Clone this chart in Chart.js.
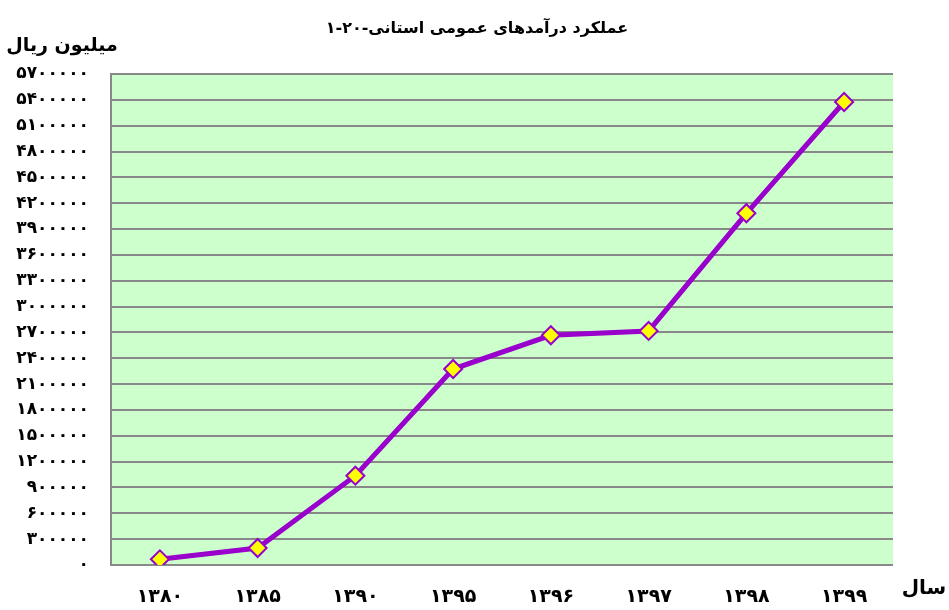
<!DOCTYPE html>
<html>
<head>
<meta charset="utf-8">
<script src="https://cdn.jsdelivr.net/npm/chart.js@4"></script>
<style>
  body { margin: 0; background: #ffffff; }
  #wrap { width: 949px; height: 610px; }
</style>
</head>
<body>
<div id="wrap"><canvas id="revenueChart" width="949" height="610"></canvas></div>
<script>
// chart data
const years = ['۱۳۸۰', '۱۳۸۵', '۱۳۹۰', '۱۳۹۵', '۱۳۹۶', '۱۳۹۷', '۱۳۹۸', '۱۳۹۹'];
const revenue = [66000, 197000, 1037000, 2275000, 2667000, 2717000, 4083000, 5375000];
const yMax = 5700000;
const yStep = 300000;

// texts, as pieces placed from left to right on the canvas
const titleParts = ['۱', '-', '۲۰', '-', 'استانی', ' ', 'عمومی', ' ', 'درآمدهای', ' ', 'عملکرد'];
const yTitleParts = ['ریال', ' ', 'میلیون'];
const xTitle = 'سال';

const faDigits = ['۰', '۱', '۲', '۳', '۴', '۵', '۶', '۷', '۸', '۹'];
function toFa(n) {
    return String(n).replace(/[0-9]/g, d => faDigits[d]);
}

const fontFamily = '"DejaVu Sans", "Noto Sans", sans-serif';

function drawParts(ctx, parts, cx, y) {
    const widths = parts.map(p => ctx.measureText(p).width);
    const total = widths.reduce((a, b) => a + b, 0);
    let x = cx - total / 2;
    ctx.textAlign = 'left';
    parts.forEach((p, i) => {
        if (p.trim()) ctx.fillText(p, x, y);
        x += widths[i];
    });
}

// green plot background + titles
const decorPlugin = {
    id: 'decor',
    beforeDraw(chart) {
        const { ctx, chartArea } = chart;
        ctx.save();
        ctx.fillStyle = '#CCFFCC';
        ctx.fillRect(chartArea.left, chartArea.top, chartArea.right - chartArea.left, chartArea.bottom - chartArea.top);
        ctx.restore();
    },
    afterDraw(chart) {
        const ctx = chart.ctx;
        ctx.save();
        ctx.fillStyle = '#000000';
        ctx.textBaseline = 'middle';
        ctx.font = 'bold 16px ' + fontFamily;
        drawParts(ctx, titleParts, 477, 29);
        ctx.font = 'bold 19px ' + fontFamily;
        drawParts(ctx, yTitleParts, 62, 46);
        ctx.font = 'bold 20px ' + fontFamily;
        ctx.textAlign = 'center';
        ctx.fillText(xTitle, 924, 589);
        ctx.restore();
    }
};

const ctx = document.getElementById('revenueChart').getContext('2d');
const revenueChart = new Chart(ctx, {
    type: 'line',
    data: {
        labels: years,
        datasets: [{
            data: revenue,
            borderColor: '#9900CC',
            borderWidth: 5,
            tension: 0,
            fill: false,
            pointStyle: 'rectRot',
            pointRadius: 9,
            pointHoverRadius: 9,
            pointBackgroundColor: '#FFFF00',
            pointBorderColor: '#9900CC',
            pointBorderWidth: 2
        }]
    },
    options: {
        responsive: false,
        animation: false,
        layout: {
            padding: { left: 0, right: 56, top: 74, bottom: 0 }
        },
        plugins: {
            legend: { display: false },
            tooltip: { enabled: false },
            title: { display: false }
        },
        scales: {
            x: {
                offset: true,
                grid: { display: false },
                border: { display: false },
                ticks: {
                    color: '#000000',
                    padding: 13,
                    maxRotation: 0,
                    font: { family: fontFamily, size: 19, weight: 'bold' }
                },
                afterFit: function(scale) {
                    scale.height = 45;
                }
            },
            y: {
                min: 0,
                max: yMax,
                grid: {
                    color: '#888888',
                    lineWidth: 2,
                    drawTicks: false
                },
                border: { display: true, color: '#888888', width: 2 },
                ticks: {
                    stepSize: yStep,
                    autoSkip: false,
                    color: '#000000',
                    padding: 22,
                    font: { family: fontFamily, size: 17, weight: 'bold' },
                    callback: function(value) {
                        return toFa(value);
                    }
                },
                afterFit: function(scale) {
                    scale.width = 111;
                }
            }
        }
    },
    plugins: [decorPlugin]
});
</script>
</body>
</html>
